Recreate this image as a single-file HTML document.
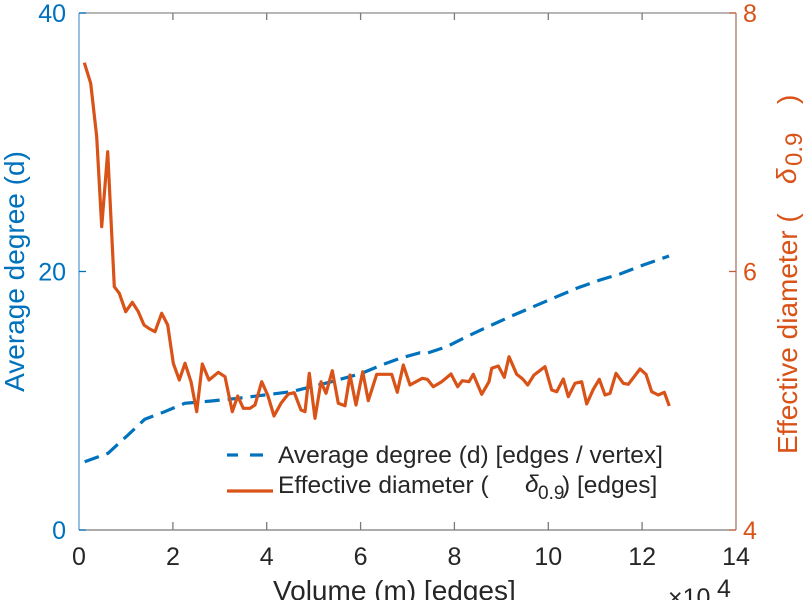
<!DOCTYPE html>
<html>
<head>
<meta charset="utf-8">
<style>
  html, body { margin: 0; padding: 0; background: #ffffff; }
  body { width: 812px; height: 600px; overflow: hidden; }
  svg { display: block; }
  text { font-family: "Liberation Sans", Arial, sans-serif; }
</style>
</head>
<body>
<svg width="812" height="600" viewBox="0 0 812 600" xmlns="http://www.w3.org/2000/svg">
  <rect x="0" y="0" width="812" height="600" fill="#ffffff"/>

  <!-- Box: top and bottom axes -->
  <line x1="79" y1="13" x2="736" y2="13" stroke="#8a8a8a" stroke-width="1.3"/>
  <line x1="79" y1="530" x2="736" y2="530" stroke="#7a7a7a" stroke-width="1.3"/>

  <!-- x ticks (bottom, pointing up) and top ticks (pointing down) -->
  <g stroke="#7a7a7a" stroke-width="1.3">
    <line x1="172.9" y1="530" x2="172.9" y2="522"/>
    <line x1="266.7" y1="530" x2="266.7" y2="522"/>
    <line x1="360.6" y1="530" x2="360.6" y2="522"/>
    <line x1="454.4" y1="530" x2="454.4" y2="522"/>
    <line x1="548.3" y1="530" x2="548.3" y2="522"/>
    <line x1="642.1" y1="530" x2="642.1" y2="522"/>
    <line x1="172.9" y1="13" x2="172.9" y2="20"/>
    <line x1="266.7" y1="13" x2="266.7" y2="20"/>
    <line x1="360.6" y1="13" x2="360.6" y2="20"/>
    <line x1="454.4" y1="13" x2="454.4" y2="20"/>
    <line x1="548.3" y1="13" x2="548.3" y2="20"/>
    <line x1="642.1" y1="13" x2="642.1" y2="20"/>
  </g>

  <!-- Left axis (blue) -->
  <line x1="79" y1="13" x2="79" y2="530" stroke="#5a9fd6" stroke-width="1.3"/>
  <g stroke="#0072BD" stroke-width="1.3">
    <line x1="79" y1="13" x2="86" y2="13"/>
    <line x1="79" y1="271.5" x2="86" y2="271.5"/>
    <line x1="79" y1="530" x2="86" y2="530"/>
  </g>

  <!-- Right axis (orange/brown) -->
  <line x1="736" y1="13" x2="736" y2="530" stroke="#a97565" stroke-width="1.3"/>
  <g stroke="#c0603a" stroke-width="1.3">
    <line x1="736" y1="13" x2="729" y2="13"/>
    <line x1="736" y1="271.5" x2="729" y2="271.5"/>
    <line x1="736" y1="530" x2="729" y2="530"/>
  </g>

  <!-- Left tick labels -->
  <g fill="#0072BD" font-size="25" text-anchor="end">
    <text x="66" y="22">40</text>
    <text x="66" y="280.5">20</text>
    <text x="66" y="539">0</text>
  </g>

  <!-- Right tick labels -->
  <g fill="#D95319" font-size="25" text-anchor="start">
    <text x="743" y="22">8</text>
    <text x="743" y="280.5">6</text>
    <text x="743" y="539">4</text>
  </g>

  <!-- X tick labels -->
  <g fill="#262626" font-size="25" text-anchor="middle">
    <text x="79" y="565">0</text>
    <text x="172.9" y="565">2</text>
    <text x="266.7" y="565">4</text>
    <text x="360.6" y="565">6</text>
    <text x="454.4" y="565">8</text>
    <text x="548.3" y="565">10</text>
    <text x="642.1" y="565">12</text>
    <text x="736" y="565">14</text>
  </g>

  <!-- x exponent -->
  <text x="668" y="606" fill="#262626" font-size="25">×10</text>
  <text x="717" y="597" fill="#262626" font-size="25">4</text>

  <!-- X label -->
  <text x="273" y="600" fill="#262626" font-size="28">Volume (m) [edges]</text>

  <!-- Left Y label -->
  <text transform="translate(24,271.5) rotate(-90)" fill="#0072BD" font-size="28" text-anchor="middle">Average degree (d)</text>

  <!-- Right Y label -->
  <g transform="translate(797,0) rotate(-90)" fill="#D95319" font-size="28">
    <text x="-454" y="0">Effective diameter (</text>
    <text x="-184" y="-1" font-style="italic">δ</text>
    <text x="-166" y="5" font-size="24">0.9</text>
    <text x="-104" y="0">)</text>
  </g>

  <!-- Blue dashed series: Average degree -->
  <polyline fill="none" stroke="#0072BD" stroke-width="3.2" stroke-dasharray="15 8"
    points="84.7,461.7 108,453.3 128,435 144.7,419.3 164.7,411.7 184.7,403.3 211.3,401 238,398.3 264.7,395 291.3,391.7 305,388.3 331.7,381.7 361.7,373.3 381.7,365 400,358.3 420,352.7 426.7,353.3 446.7,346.7 463.3,338.3 486.7,327.3 510,316.7 533.3,306.7 556.7,296.7 576.7,288.3 600,280 620,274 643.3,265 669,256"/>

  <!-- Orange solid series: Effective diameter -->
  <polyline fill="none" stroke="#D95319" stroke-width="3.2" stroke-linejoin="round"
    points="84.3,62.7 90.7,83.3 96.7,136.7 101.7,226.7 107.7,151.7 114.3,286.7 119.3,293.3 125.7,311.7 132.3,302.3 138.3,311.7 144,325 149,328.5 155,331.7 161.7,313.3 167.7,325 173.3,363.3 179.3,380 185,363.3 191,381.7 196.7,411.7 202.3,364 209,380 218.3,372.3 225,376.7 232.3,411.7 237.7,396 243.3,408.3 250,408.3 255,405 261.7,381.7 267.7,395 274,416 281,403.3 288.3,394 294.3,392.7 301,410 305,411.7 309.3,373.3 315,418.3 321,381.7 326,393.3 332.3,370.7 338.3,403.3 345,405.7 350,375 356,405 362.7,371.7 368.3,400.7 376.7,374.3 384.3,374.3 391.7,374.3 397.3,392.3 403.3,365 410,385 422.3,378.3 427.3,379.3 433.3,386.7 441.7,381.7 451,374 457.7,386.7 462.3,380.7 469,381.7 473.3,374.3 481.7,394.3 489,381.7 491.7,368.3 498.3,366 504.3,377.3 509,356.7 516.7,374.3 522.7,379 527.7,385 534,375 545,366.7 551.7,390 556.7,391.7 563.3,379 568.3,396.7 575,383.3 581.7,381.7 586.7,404 593.3,389.3 599.3,379.3 605,395 610,393.3 616,373.3 623.3,383.3 628.3,384.3 640,369 646,374.3 651.7,391.7 658.3,395 664.3,392.3 669.3,406"/>

  <!-- Legend -->
  <line x1="227" y1="455" x2="238" y2="455" stroke="#0072BD" stroke-width="3.2"/>
  <line x1="250" y1="455" x2="263" y2="455" stroke="#0072BD" stroke-width="3.2"/>
  <line x1="227" y1="491" x2="273" y2="491" stroke="#D95319" stroke-width="3.2"/>
  <g fill="#262626" font-size="24.5">
    <text x="278" y="463">Average degree (d) [edges / vertex]</text>
    <text x="278" y="493">Effective diameter (</text>
    <text x="525" y="492" font-style="italic">δ</text>
    <text x="538" y="499" font-size="19">0.9</text>
    <text x="562" y="493">) [edges]</text>
  </g>
</svg>
</body>
</html>
